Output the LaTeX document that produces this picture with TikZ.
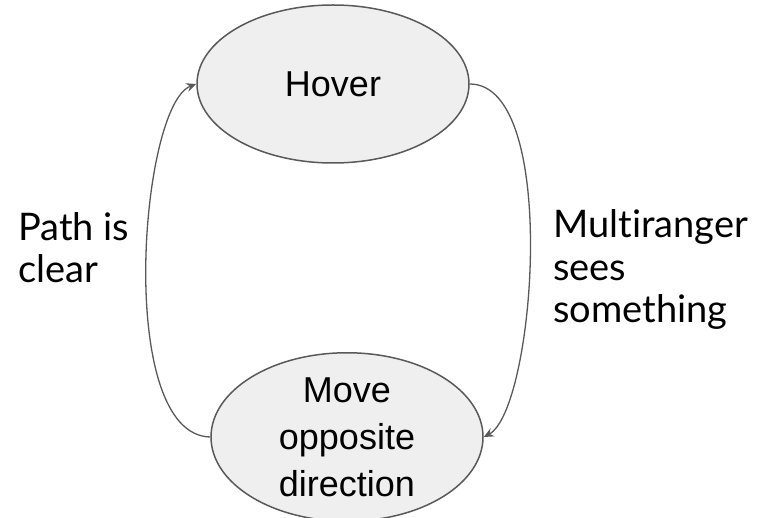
\documentclass[tikz,border=0pt]{standalone}
\usepackage{fontspec}
\setmainfont{Liberation Sans}
\newfontfamily\labelfont[Ligatures=NoCommon]{Lato}
\usetikzlibrary{shapes.geometric,arrows.meta}
\definecolor{edgegray}{HTML}{595959}
\definecolor{fillgray}{HTML}{EFEFEF}
\tikzset{
  state/.style={ellipse, draw=edgegray, fill=fillgray, line width=1.5pt,
    minimum width=272pt, minimum height=158pt, inner sep=0pt, align=center,
    font=\fontsize{36}{47}\selectfont},
  conn/.style={draw=edgegray, line width=1.3pt,
    -{Stealth[length=10pt,width=9pt,inset=3.5pt]}},
  lbl/.style={anchor=base west, align=left, inner sep=0pt,
    font=\labelfont\fontsize{38}{42.5}\selectfont}
}
\begin{document}
\begin{tikzpicture}[x=1pt,y=-1pt]
\useasboundingbox (0,0) rectangle (765,518);
\node[state] (hover) at (333,84) {Hover};
\node[state, minimum height=160pt] (move) at (347,437) {Move\\opposite\\direction};
\draw[conn] (move.west) .. controls (115,435) and (140,105) .. (hover.west);
\draw[conn] (hover.east) .. controls (560,84) and (535,410) .. (move.east);
\node[lbl] (lblclear) at (18,283) {Path is\\clear};
\node[lbl] (lblsees) at (553,323) {Multiranger\\sees\\something};
\end{tikzpicture}
\end{document}
